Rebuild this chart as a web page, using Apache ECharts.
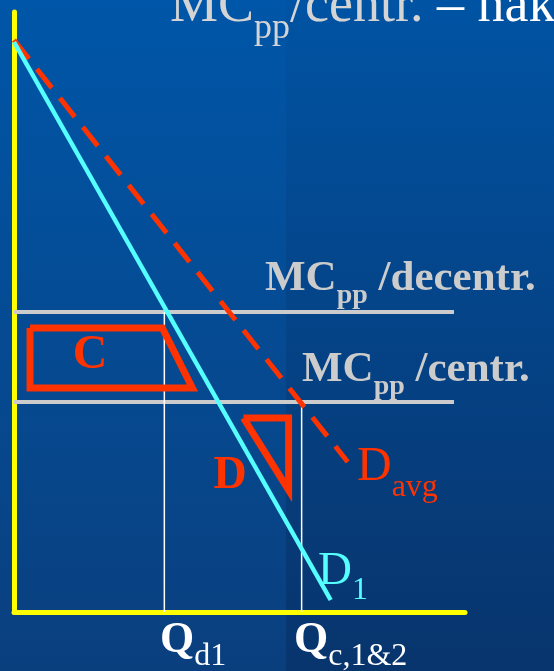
<!DOCTYPE html>
<html>
<head>
<meta charset="utf-8">
<script src="https://cdn.jsdelivr.net/npm/echarts@6/dist/echarts.min.js"></script>
<style>
  html, body { margin: 0; padding: 0; background: #004a95; }
  #chart { width: 554px; height: 671px; }
</style>
</head>
<body>
<div id="chart"></div>
<script>
// quantity / price in arbitrary diagram units
const qMarks = [3.0, 5.74];              // Q_d1, Q_c,1&2
const mcLevels = [6.0, 4.2];             // MC_pp decentr., MC_pp centr.
const mcEnd = 8.78;
const demandD1 = [[0, 11.4], [6.32, 0.24]];
const demandAvg = [[0, 11.44], [6.66, 3.0]];
const areaC = [[0.32, 5.68], [2.96, 5.68], [3.56, 4.48], [0.32, 4.48], [0.32, 5.68]];
const areaD = [[4.58, 3.88], [5.48, 3.88], [5.48, 2.44], [4.58, 3.88]];

const serif = '"Liberation Serif", "DejaVu Serif", serif';
const RED = '#ff3300';
const CYAN = '#55ffff';
const GREY = '#cccccc';

const chart = echarts.init(document.getElementById('chart'));

function lineSeries(data, color, width, type, z) {
  return {
    type: 'line',
    data: data,
    symbol: 'none',
    silent: true,
    clip: false,
    z: z,
    lineStyle: { color: color, width: width, type: type || 'solid', join: 'miter', cap: 'butt' }
  };
}

// main text + subscript; drop = how far the subscript baseline sits below the main baseline
function label(x, baseline, text, o) {
  const pad = Math.round(0.84 * (o.size - o.subSize) + o.drop);
  return {
    type: 'text', x: x, y: baseline - 0.78 * o.size, z: 100, silent: true,
    style: {
      text: text, verticalAlign: 'top', align: 'left',
      rich: {
        a: { fontFamily: serif, fontSize: o.size, fontWeight: o.weight || 'normal', fill: o.color, verticalAlign: 'top' },
        b: { fontFamily: serif, fontSize: o.subSize, fontWeight: o.subWeight || o.weight || 'normal', fill: o.color, verticalAlign: 'top', padding: [pad, 0, 0, 0] }
      }
    }
  };
}

const shadow = { fontFamily: serif, textShadowColor: '#1c1c28', textShadowOffsetX: 3, textShadowOffsetY: 3, textShadowBlur: 0, verticalAlign: 'top' };

chart.setOption({
  animation: false,
  backgroundColor: {
    type: 'linear', x: 0, y: 0, x2: 0, y2: 1,
    colorStops: [{ offset: 0, color: '#0056a8' }, { offset: 1, color: '#0a3f7e' }]
  },
  grid: { left: 14, right: 89, top: 12, bottom: 59 },
  xAxis: {
    type: 'value', min: 0, max: 9,
    axisLine: { lineStyle: { color: '#ffff00', width: 5 } },
    axisTick: { show: false }, axisLabel: { show: false }, splitLine: { show: false }
  },
  yAxis: {
    type: 'value', min: 0, max: 12,
    axisLine: { show: true, lineStyle: { color: '#ffff00', width: 5 } },
    axisTick: { show: false }, axisLabel: { show: false }, splitLine: { show: false }
  },
  graphic: [
    {
      type: 'rect', z: -10, silent: true,
      shape: { x: 286, y: 0, width: 268, height: 671 },
      style: {
        fill: { type: 'linear', x: 0, y: 0, x2: 0, y2: 1,
          colorStops: [{ offset: 0, color: 'rgba(0,10,40,0.03)' }, { offset: 1, color: 'rgba(0,10,40,0.2)' }] }
      }
    },
    {
      type: 'text', x: 170, y: 23 - 0.8 * 54, z: 100, silent: true,
      style: {
        text: '{t|MC}{s|pp}{t|/centr. }{w|– nák}',
        verticalAlign: 'top',
        rich: {
          t: Object.assign({ fontSize: 54, fill: '#d4d4d4' }, shadow),
          s: Object.assign({ fontSize: 36, fill: '#d4d4d4', padding: [31, 0, 0, 0] }, shadow),
          w: Object.assign({ fontSize: 54, fill: '#ffffff' }, shadow)
        }
      }
    },
    label(265, 291, '{a|MC}{b|pp}{a| /decentr.}', { size: 43, weight: 'bold', color: GREY, subSize: 28, drop: 11 }),
    label(302, 382, '{a|MC}{b|pp}{a| /centr.}', { size: 43, weight: 'bold', color: GREY, subSize: 28, drop: 11 }),
    label(357, 481, '{a|D}{b|avg}', { size: 48, color: RED, subSize: 32, drop: 15 }),
    label(318, 585, '{a|D}{b|1}', { size: 47, color: CYAN, subSize: 32, drop: 13 }),
    label(160, 653, '{a|Q}{b|d1}', { size: 44, weight: 'bold', color: '#ffffff', subSize: 32, subWeight: 'normal', drop: 12 }),
    label(294, 653, '{a|Q}{b|c,1&2}', { size: 44, weight: 'bold', color: '#ffffff', subSize: 32, subWeight: 'normal', drop: 12 }),
    {
      type: 'text', x: 90, y: 356, z: 100, silent: true,
      style: { text: 'C', fontFamily: serif, fontSize: 48, fontWeight: 'bold', fill: RED, align: 'center', verticalAlign: 'middle' }
    },
    {
      type: 'text', x: 230, y: 476, z: 100, silent: true,
      style: { text: 'D', fontFamily: serif, fontSize: 46, fontWeight: 'bold', fill: RED, align: 'center', verticalAlign: 'middle' }
    }
  ],
  series: [
    lineSeries([[0, mcLevels[0]], [mcEnd, mcLevels[0]]], GREY, 4, 'solid', 2),
    lineSeries([[0, mcLevels[1]], [mcEnd, mcLevels[1]]], GREY, 4, 'solid', 2),
    lineSeries([[qMarks[0], 0], [qMarks[0], mcLevels[0]]], '#ffffff', 1.5, 'solid', 3),
    lineSeries([[qMarks[1], 0], [qMarks[1], mcLevels[1]]], '#ffffff', 1.5, 'solid', 3),
    lineSeries(demandAvg, RED, 5, [24, 13], 4),
    lineSeries(demandD1, CYAN, 4.5, 'solid', 5),
    lineSeries(areaC, RED, 7, 'solid', 6),
    lineSeries(areaD, RED, 7, 'solid', 6)
  ]
});
</script>
</body>
</html>
